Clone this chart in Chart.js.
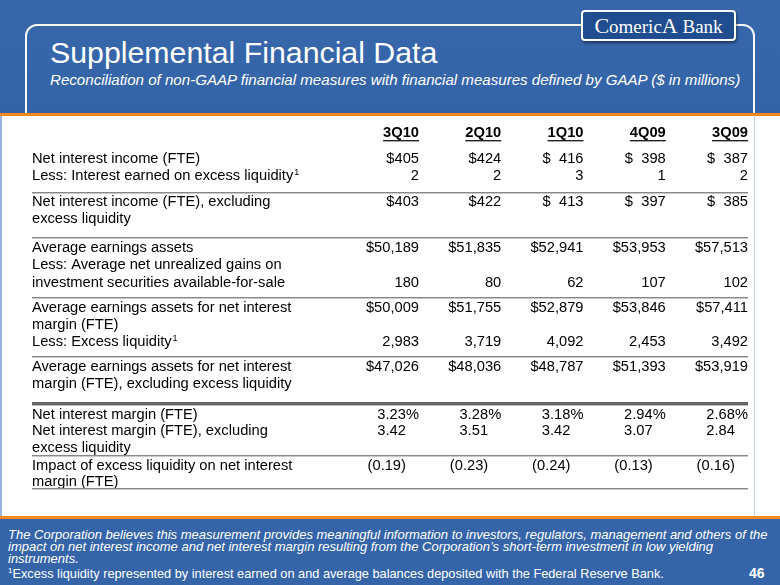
<!DOCTYPE html>
<html>
<head>
<meta charset="utf-8">
<script src="https://cdn.jsdelivr.net/npm/chart.js@4.4.1/dist/chart.umd.min.js"></script>
<style>
  body { margin: 0; width: 780px; height: 585px; overflow: hidden; position: relative;
         background: #3565a8; font-family: Arial, "Liberation Sans", sans-serif; }
  .abs { position: absolute; }
  #hdr { left: 0; top: 0; width: 780px; height: 113px;
         background: linear-gradient(180deg, #3867ab 0%, #3464a8 100%); }
  #frame { left: 25px; top: 24px; width: 730px; height: 120px; border: 2px solid #f4f7fb;
           border-radius: 12px; box-sizing: border-box; }
  #logo { left: 581px; top: 10px; width: 155px; height: 31px; background: #1f4d8f;
          border: 2px solid #fff; border-radius: 4px; box-sizing: border-box;
          box-shadow: 1px 2px 3px rgba(0,0,0,0.45); color: #fff;
          font-family: "Liberation Serif", "DejaVu Serif", serif; font-size: 19px;
          line-height: 27px; text-align: center; }
  #logo .big { font-size: 22px; }
  #title { left: 50px; top: 38px; color: #fff; font-size: 30.3px; line-height: 30px; white-space: nowrap; }
  #sub { left: 50px; top: 73px; color: #fff; font-size: 15.1px; line-height: 14.5px;
         font-style: italic; white-space: nowrap; }
  .orange { left: 0; width: 780px; height: 3px; background: #f2891e; }
  #panel { left: 0; top: 116px; width: 780px; height: 400px; background: #fff; }
  #lborder { left: 0; top: 116px; width: 2px; height: 400px; background: #9ab6dc; }
  #rborder { left: 754px; top: 116px; width: 1px; height: 400px; background: #c4d2e4; }
  #foot { left: 8px; top: 529px; color: #fff; font-size: 13px; line-height: 12px; font-style: italic;
          white-space: nowrap; }
  #note { left: 8px; top: 564px; color: #fff; font-size: 12.75px; line-height: 13px; white-space: nowrap; }
  #note sup { font-size: 8px; vertical-align: 5px; }
  #page { left: 749px; top: 566px; color: #fff; font-size: 14px; font-weight: bold; line-height: 14px; }
  canvas { position: absolute; left: 0; top: 0; }
</style>
</head>
<body>
<div id="hdr" class="abs"></div>
<div id="frame" class="abs"></div>
<div id="logo" class="abs"><span class="big">C</span>omeric<span class="big">A</span> Bank</div>
<div id="title" class="abs">Supplemental Financial Data</div>
<div id="sub" class="abs">Reconciliation of non-GAAP financial measures with financial measures defined by GAAP ($ in millions)</div>
<div class="abs orange" style="top:113px"></div>
<div id="panel" class="abs"></div>
<div id="lborder" class="abs"></div>
<div id="rborder" class="abs"></div>
<div class="abs orange" style="top:516px"></div>
<div id="foot" class="abs">The Corporation believes this measurement provides meaningful information to investors, regulators, management and others of the<br>impact on net interest income and net interest margin resulting from the Corporation’s short-term investment in low yielding<br>instruments.</div>
<div id="note" class="abs"><sup>1</sup>Excess liquidity represented by interest earned on and average balances deposited with the Federal Reserve Bank.</div>
<div id="page" class="abs">46</div>
<canvas id="myChart" width="780" height="585"></canvas>
<script>
// columns
const quarters = ['3Q10', '2Q10', '1Q10', '4Q09', '3Q09']

// values ($ in millions, margins in %)
const netInterestIncome = [405, 424, 416, 398, 387]
const interestOnExcess = [2, 2, 3, 1, 2]
const netInterestIncomeExcl = [403, 422, 413, 397, 385]
const avgEarningAssets = [50189, 51835, 52941, 53953, 57513]
const unrealizedGains = [180, 80, 62, 107, 102]
const avgEarningAssetsNim = [50009, 51755, 52879, 53846, 57411]
const excessLiquidity = [2983, 3719, 4092, 2453, 3492]
const avgEarningAssetsExcl = [47026, 48036, 48787, 51393, 53919]
const netInterestMargin = [3.23, 3.28, 3.18, 2.94, 2.68]
const netInterestMarginExcl = [3.42, 3.51, 3.42, 3.07, 2.84]
const excessImpact = [-0.19, -0.23, -0.24, -0.13, -0.16]

// row captions
const labelLines = [
    'Net interest income (FTE)',
    'Less: Interest earned on excess liquidity¹',
    'Net interest income (FTE), excluding',
    'excess liquidity',
    'Average earnings assets',
    'Less: Average net unrealized gains on',
    'investment securities available-for-sale',
    'Average earnings assets for net interest',
    'margin (FTE)',
    'Less: Excess liquidity¹',
    'Average earnings assets for net interest',
    'margin (FTE), excluding excess liquidity',
    'Net interest margin (FTE)',
    'Net interest margin (FTE), excluding',
    'excess liquidity',
    'Impact of excess liquidity on net interest',
    'margin (FTE)'
]

// layout, in text lines below the header row
const labelPos = [1.5, 2.5, 4.05, 5.05, 6.75, 7.75, 8.8, 10.25, 11.25, 12.25, 13.75, 14.75, 16.55, 17.5, 18.5, 19.55, 20.5]
const rulePos = [3.55, 6.15, 9.7, 13.2, 15.95, 19.0, 20.95]
const heavyRule = 15.95
const labelCol = -4.705
const padDollar = [false, false, true, true, true]

const series = [
    { values: netInterestIncome, fmt: 'usd', line: 1.5 },
    { values: interestOnExcess, fmt: 'num', line: 2.5 },
    { values: netInterestIncomeExcl, fmt: 'usd', line: 4.05 },
    { values: avgEarningAssets, fmt: 'usd', line: 6.75 },
    { values: unrealizedGains, fmt: 'num', line: 8.8 },
    { values: avgEarningAssetsNim, fmt: 'usd', line: 10.25 },
    { values: excessLiquidity, fmt: 'num', line: 12.25 },
    { values: avgEarningAssetsExcl, fmt: 'usd', line: 13.75 },
    { values: netInterestMargin, fmt: 'pct', line: 16.55 },
    { values: netInterestMarginExcl, fmt: 'dec', line: 17.5 },
    { values: excessImpact, fmt: 'neg', line: 19.55 }
]

const FONT = 'Arial, "Liberation Sans", sans-serif'
const SIZE = 14.7

const tablePlugin = {
    id: 'tablePlugin',
    afterDatasetsDraw(chart) {
        const ctx = chart.ctx
        const xs = chart.scales.x
        const ys = chart.scales.y
        const left = xs.getPixelForValue(labelCol)
        const right = xs.getPixelForValue(quarters.length - 1)
        ctx.save()
        ctx.fillStyle = '#000'
        ctx.textBaseline = 'alphabetic'
        const base = v => ys.getPixelForValue(v) + SIZE * 0.36

        // header
        ctx.font = `bold ${SIZE}px ${FONT}`
        ctx.textAlign = 'right'
        quarters.forEach((q, i) => {
            const x = xs.getPixelForValue(i)
            const y = base(0)
            ctx.fillText(q, x, y)
            const w = ctx.measureText(q).width
            ctx.fillStyle = '#222'
            ctx.fillRect(x - w, Math.round(y) + 3, w, 1)
            ctx.fillStyle = '#aaa'
            ctx.fillRect(x - w, Math.round(y) + 4, w, 1)
            ctx.fillStyle = '#000'
        })

        // captions
        ctx.font = `${SIZE}px ${FONT}`
        ctx.textAlign = 'left'
        labelLines.forEach((t, i) => {
            const y = base(labelPos[i])
            const sup = t.endsWith('¹')
            const txt = sup ? t.slice(0, -1) : t
            ctx.fillText(txt, left, y)
            if (sup) {
                const w = ctx.measureText(txt).width
                ctx.font = `9px ${FONT}`
                ctx.fillText('1', left + w + 1, y - 5)
                ctx.font = `${SIZE}px ${FONT}`
            }
        })

        // rules
        rulePos.forEach(r => {
            const y = Math.round(ys.getPixelForValue(r))
            if (r === heavyRule) {
                ctx.fillStyle = '#666'
                ctx.fillRect(left, y - 1, right - left, 3)
                ctx.fillStyle = '#bbb'
                ctx.fillRect(left, y + 2, right - left, 1)
            } else {
                ctx.fillStyle = '#888'
                ctx.fillRect(left, y, right - left, 1)
                ctx.fillStyle = '#c8c8c8'
                ctx.fillRect(left, y + 1, right - left, 1)
            }
        })

        // values, placed at the points the scales computed
        ctx.fillStyle = '#000'
        ctx.font = `${SIZE}px ${FONT}`
        const pctW = ctx.measureText('%').width
        ctx.textAlign = 'right'
        chart.data.datasets.forEach((ds, di) => {
            const s = series[di]
            chart.getDatasetMeta(di).data.forEach((pt, i) => {
                const v = s.values[i]
                const x = pt.x
                const y = pt.y + SIZE * 0.36
                if (s.fmt === 'usd') {
                    const n = v.toLocaleString('en-US')
                    if (padDollar[i] && v < 1000) {
                        ctx.fillText(n, x, y)
                        ctx.textAlign = 'left'
                        ctx.fillText('$', x - 41, y)
                        ctx.textAlign = 'right'
                    } else {
                        ctx.fillText('$' + n, x, y)
                    }
                } else if (s.fmt === 'num') {
                    ctx.fillText(v.toLocaleString('en-US'), x, y)
                } else if (s.fmt === 'pct') {
                    ctx.fillText(v.toFixed(2) + '%', x, y)
                } else if (s.fmt === 'dec') {
                    ctx.fillText(v.toFixed(2), x - pctW, y)
                } else {
                    ctx.fillText('(' + Math.abs(v).toFixed(2) + ')', x - pctW, y)
                }
            })
        })
        ctx.restore()
    }
}

const chart = new Chart(document.getElementById('myChart').getContext('2d'), {
    type: 'scatter',
    data: {
        datasets: series.map(s => ({
            data: s.values.map((v, i) => ({ x: i, y: s.line })),
            pointRadius: 0,
            showLine: false
        }))
    },
    options: {
        responsive: false,
        animation: false,
        events: [],
        layout: { padding: { left: 32, right: 32, top: 116, bottom: 68 } },
        scales: {
            x: { type: 'linear', min: labelCol, max: quarters.length - 1, display: false },
            y: { type: 'linear', min: -0.94, max: 22.65, reverse: true, display: false }
        },
        plugins: { legend: { display: false }, tooltip: { enabled: false } }
    },
    plugins: [tablePlugin]
})
</script>
</body>
</html>
